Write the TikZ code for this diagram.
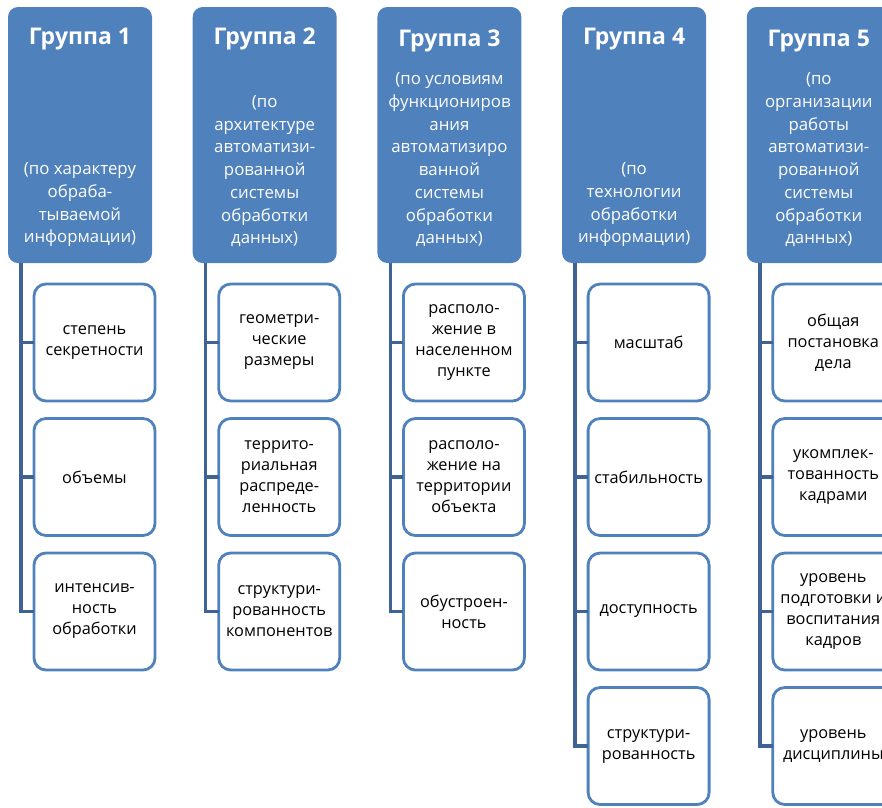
\documentclass[tikz,border=0pt]{standalone}
\usepackage{fontspec}
\setmainfont{Open Sans}
\usepackage{tikz}
\usetikzlibrary{positioning}

\definecolor{hdrblue}{RGB}{79,129,189}
\definecolor{linkblue}{RGB}{62,99,148}

\tikzset{
  grp/.style={fill=hdrblue, rounded corners=10pt, minimum width=144pt,
              minimum height=256pt, inner sep=0pt, outer sep=0pt},
  grptitle/.style={text=white, inner sep=0pt, anchor=north,
                   font=\fontsize{23}{27}\selectfont\bfseries},
  grpsub/.style={text=white, inner sep=0pt, anchor=south, align=center,
                 font=\fontsize{16.8}{22.7}\selectfont},
  item/.style={draw=hdrblue, line width=2.8pt, fill=white, rounded corners=12pt,
               minimum width=121pt, minimum height=117pt, inner sep=0pt,
               outer sep=0pt, align=center,
               font=\fontsize{16.3}{21}\selectfont},
  link/.style={draw=linkblue, line width=3.4pt}
}

\begin{document}
\begin{tikzpicture}[x=1pt, y=-1pt, node distance=17.5pt]
            \useasboundingbox (0,0) rectangle (882,807);
            % headers
            \node[grp, anchor=north west] (g1) at (8,7) {};
            \node[grp, right=40.7pt of g1] (g2) {};
            \node[grp, right=40.7pt of g2] (g3) {};
            \node[grp, right=40.7pt of g3] (g4) {};
            \node[grp, right=40.7pt of g4] (g5) {};
            \node[grptitle] (t1) at ([yshift=-21pt]g1.north) {Группа 1};
            \node[grptitle] (t2) at ([yshift=-21pt]g2.north) {Группа 2};
            \node[grptitle] (t3) at ([yshift=-23pt]g3.north) {Группа 3};
            \node[grptitle] (t4) at ([yshift=-21pt]g4.north) {Группа 4};
            \node[grptitle] (t5) at ([yshift=-23pt]g5.north) {Группа 5};
            \node[grpsub] (s1) at ([yshift=16pt]g1.south)
                {(по характеру\\обраба-\\тываемой\\информации)};
            \node[grpsub] (s2) at ([yshift=16pt]g2.south)
                {(по\\архитектуре\\автоматизи-\\рованной\\системы\\обработки\\данных)};
            \node[grpsub] (s3) at ([yshift=16pt]g3.south)
                {(по условиям\\функциониров\\ания\\автоматизиро\\ванной\\системы\\обработки\\данных)};
            \node[grpsub] (s4) at ([yshift=16pt]g4.south)
                {(по\\технологии\\обработки\\информации)};
            \node[grpsub] (s5) at ([yshift=16pt]g5.south)
                {(по\\организации\\работы\\автоматизи-\\рованной\\системы\\обработки\\данных)};
            % group 1
            \node[item, anchor=north west] (c11) at ([xshift=26pt,yshift=-21pt]g1.south west)
                {степень\\секретности};
            \node[item, below=of c11] (c12) {объемы};
            \node[item, below=of c12] (c13) {интенсив-\\ность\\обработки};
            % group 2
            \node[item, anchor=north west] (c21) at ([xshift=26pt,yshift=-21pt]g2.south west)
                {геометри-\\ческие\\размеры};
            \node[item, below=of c21] (c22) {террито-\\риальная\\распреде-\\ленность};
            \node[item, below=of c22] (c23) {структури-\\рованность\\компонентов};
            % group 3
            \node[item, anchor=north west] (c31) at ([xshift=26pt,yshift=-21pt]g3.south west)
                {располо-\\жение в\\населенном\\пункте};
            \node[item, below=of c31] (c32) {располо-\\жение на\\территории\\объекта};
            \node[item, below=of c32] (c33) {обустроен-\\ность};
            % group 4
            \node[item, anchor=north west] (c41) at ([xshift=26pt,yshift=-21pt]g4.south west)
                {масштаб};
            \node[item, below=of c41] (c42) {стабильность};
            \node[item, below=of c42] (c43) {доступность};
            \node[item, below=of c43] (c44) {структури-\\рованность};
            % group 5
            \node[item, anchor=north west] (c51) at ([xshift=26pt,yshift=-21pt]g5.south west)
                {общая\\постановка\\дела};
            \node[item, below=of c51] (c52) {укомплек-\\тованность\\кадрами};
            \node[item, below=of c52] (c53) {уровень\\подготовки и\\воспитания\\кадров};
            \node[item, below=of c53] (c54) {уровень\\дисциплины};
            % connectors
            \coordinate (r1) at ([xshift=13pt]g1.south west);
            \coordinate (r2) at ([xshift=13pt]g2.south west);
            \coordinate (r3) at ([xshift=13pt]g3.south west);
            \coordinate (r4) at ([xshift=13pt]g4.south west);
            \coordinate (r5) at ([xshift=13pt]g5.south west);
            \draw[link] (r1) |- (c11.west);
            \draw[link] (r1) |- (c12.west);
            \draw[link] (r1) |- (c13.west);
            \draw[link] (r2) |- (c21.west);
            \draw[link] (r2) |- (c22.west);
            \draw[link] (r2) |- (c23.west);
            \draw[link] (r3) |- (c31.west);
            \draw[link] (r3) |- (c32.west);
            \draw[link] (r3) |- (c33.west);
            \draw[link] (r4) |- (c41.west);
            \draw[link] (r4) |- (c42.west);
            \draw[link] (r4) |- (c43.west);
            \draw[link] (r4) |- (c44.west);
            \draw[link] (r5) |- (c51.west);
            \draw[link] (r5) |- (c52.west);
            \draw[link] (r5) |- (c53.west);
            \draw[link] (r5) |- (c54.west);
        \end{tikzpicture}
\end{document}
